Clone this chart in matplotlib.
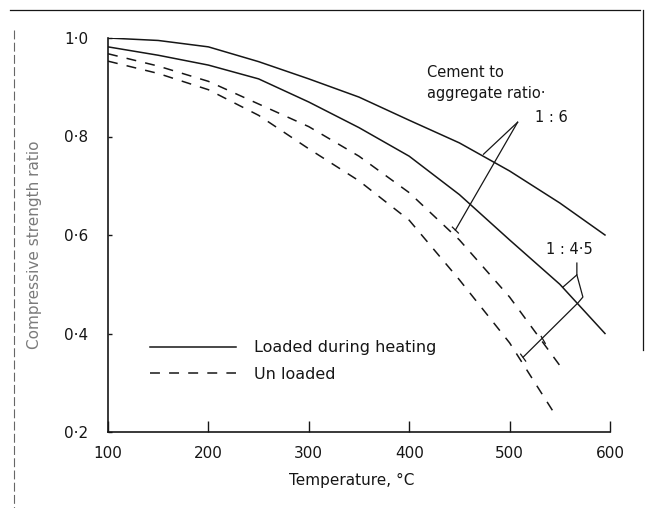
import matplotlib
matplotlib.use("Agg")
import matplotlib.pyplot as plt
from matplotlib.lines import Line2D

temp_16_loaded = [100, 150, 200, 250, 300, 350, 400, 450, 500, 550, 595]
ratio_16_loaded = [1.0, 0.995, 0.982, 0.952, 0.917, 0.88, 0.833, 0.787, 0.73, 0.665, 0.60]

temp_145_loaded = [100, 150, 200, 250, 300, 350, 400, 450, 500, 550, 595]
ratio_145_loaded = [0.982, 0.965, 0.945, 0.917, 0.87, 0.818, 0.76, 0.682, 0.59, 0.50, 0.40]

temp_16_unloaded = [100, 150, 200, 250, 300, 350, 400, 450, 500, 550]
ratio_16_unloaded = [0.968, 0.943, 0.912, 0.866, 0.82, 0.76, 0.686, 0.59, 0.474, 0.335]

temp_145_unloaded = [100, 150, 200, 250, 300, 350, 400, 450, 500, 547]
ratio_145_unloaded = [0.953, 0.928, 0.895, 0.843, 0.775, 0.71, 0.63, 0.509, 0.381, 0.23]

xticks = [100, 200, 300, 400, 500, 600]
yticks = [0.2, 0.4, 0.6, 0.8, 1.0]
yticklabels = ["0·2", "0·4", "0·6", "0·8", "1·0"]

INK = "#161616"
W, H = 651, 508

fig = plt.figure(figsize=(W / 100, H / 100), dpi=100)
ax = fig.add_axes([108 / W, 1 - 432 / H, 502 / W, 394 / H])

solid = dict(color=INK, lw=1.1)
dashed = dict(color=INK, lw=1.1, dashes=(6.5, 6))
ax.plot(temp_16_loaded, ratio_16_loaded, **solid)
ax.plot(temp_145_loaded, ratio_145_loaded, **solid)
ax.plot(temp_16_unloaded, ratio_16_unloaded, **dashed)
ax.plot(temp_145_unloaded, ratio_145_unloaded, **dashed)

ax.set_xlim(100, 600)
ax.set_ylim(0.2, 1.0)
ax.set_xticks(xticks)
ax.set_xticklabels([str(t) for t in xticks])
ax.set_yticks(yticks)
ax.set_yticklabels(yticklabels)
ax.tick_params(axis="x", direction="in", length=8, width=1.0, pad=10,
               labelsize=11, colors=INK)
ax.tick_params(axis="y", direction="in", length=3, width=1.0, pad=14,
               labelsize=11, colors=INK)
for s in ("top", "right"):
    ax.spines[s].set_visible(False)
for s in ("left", "bottom"):
    ax.spines[s].set_color(INK)
    ax.spines[s].set_linewidth(1.2)

# legend
handles = [Line2D([], [], **solid), Line2D([], [], **dashed)]
ax.legend(handles, ["Loaded during heating", "Un loaded"], frameon=False,
          loc="center left", bbox_to_anchor=(0.084, 0.18), borderpad=0,
          borderaxespad=0, handlelength=5.4, handletextpad=1.1,
          labelspacing=0.7, fontsize=11.5, labelcolor=INK)

# annotations
ax.text(418, 0.929, "Cement to", fontsize=10.5, color=INK, va="center")
ax.text(418, 0.888, "aggregate ratio·", fontsize=10.5, color=INK, va="center")
ax.text(542, 0.838, "1 : 6", fontsize=10.5, color=INK, va="center", ha="center")
ax.text(560, 0.57, "1 : 4·5", fontsize=10.5, color=INK, va="center", ha="center")

lw = 0.9
# 1:6 pointer
ax.plot([508, 474], [0.829, 0.764], color=INK, lw=lw)
ax.plot([508, 446], [0.829, 0.61], color=INK, lw=lw)
ax.plot([443, 449], [0.616, 0.604], color=INK, lw=lw)
# 1:4.5 pointer
ax.plot([567, 567, 553], [0.543, 0.519, 0.494], color=INK, lw=lw)
ax.plot([567, 573, 568, 513.5], [0.519, 0.474, 0.462, 0.352], color=INK, lw=lw)
ax.plot([531.5, 535.5], [0.394, 0.380], color=INK, lw=lw)
ax.plot([511, 516], [0.358, 0.344], color=INK, lw=lw)

fig.text(35 / W, 1 - 245 / H, "Compressive strength ratio", rotation=90,
         ha="center", va="center", fontsize=11, color="#7a7a7a")
fig.text(352 / W, 1 - 480 / H, "Temperature, °C", ha="center", va="center",
         fontsize=11, color=INK)

# scan frame
fig.add_artist(Line2D([10 / W, 640 / W], [1 - 10 / H, 1 - 10 / H],
                      color=INK, lw=0.9, transform=fig.transFigure))
fig.add_artist(Line2D([643 / W, 643 / W], [1 - 10 / H, 1 - 350 / H],
                      color=INK, lw=0.9, transform=fig.transFigure))
fig.add_artist(Line2D([14 / W, 14 / W], [1 - 30 / H, 0], color="#666666",
                      lw=0.8, dashes=(8, 3), transform=fig.transFigure))

fig.savefig("out.png", dpi=100)
